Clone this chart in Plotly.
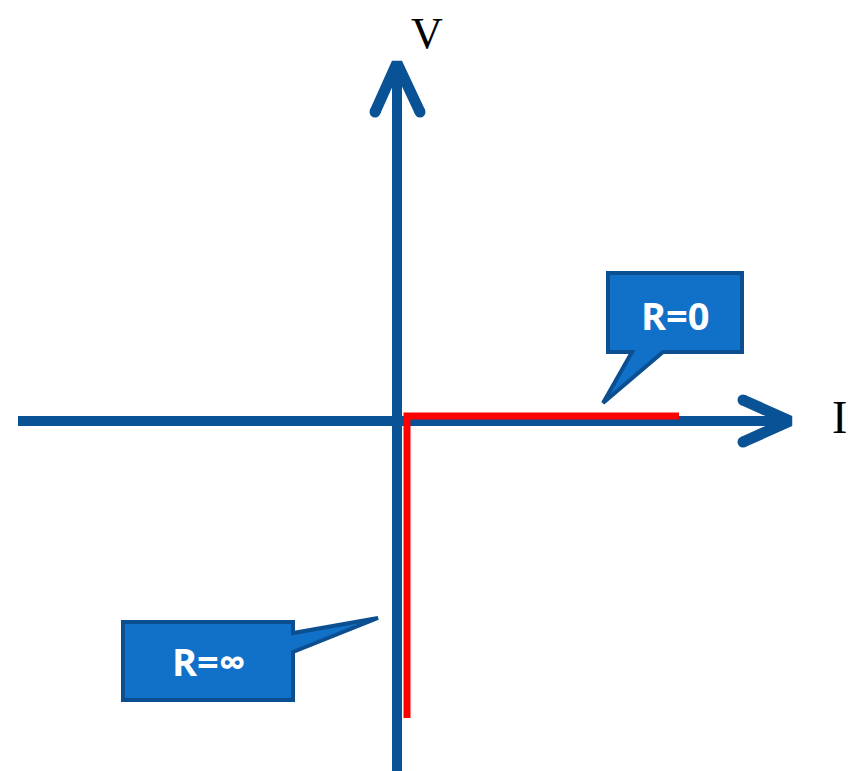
import plotly.graph_objects as go

# Diagram coordinates: origin at the axis crossing, x = current I, y = voltage V (arbitrary units)
i_axis_x = [-379, 391]
i_axis_y = [0, 0]
v_axis_x = [0, 0]
v_axis_y = [-360, 356]
i_head_x = [346, 393, 346]
i_head_y = [21, 0, -21]
v_head_x = [-22, 0, 23]
v_head_y = [309, 358, 309]

# Ideal characteristic (red): R=inf branch along V, R=0 branch along I
char_x = [10, 10, 282]
char_y = [-297, 5, 5]

labels = ["R=0", "R=∞"]
label_pos = [(278, 106), (-188, -240)]
callout_paths = [
    "M 211,148 L 345,148 L 345,69 L 266,69 L 206,18 L 235,69 L 211,69 Z",
    "M -274,-201 L -104,-201 L -104,-212 L -19,-197 L -104,-231 L -104,-279 L -274,-279 Z",
]

AX = "#0A5296"
FILL = "#1170C8"
EDGE = "#0B4F91"

fig = go.Figure()
fig.add_trace(go.Scatter(x=i_axis_x, y=i_axis_y, mode="lines", line=dict(color=AX, width=10), hoverinfo="skip"))
fig.add_trace(go.Scatter(x=v_axis_x, y=v_axis_y, mode="lines", line=dict(color=AX, width=10), hoverinfo="skip"))
for hx, hy in [(i_head_x, i_head_y), (v_head_x, v_head_y)]:
    fig.add_trace(go.Scatter(x=hx, y=hy, mode="lines+markers", line=dict(color=AX, width=11),
                             marker=dict(size=[11, 0, 11], color=AX, opacity=1, line=dict(width=0)),
                             hoverinfo="skip"))
fig.add_trace(go.Scatter(x=char_x, y=char_y, mode="lines", line=dict(color="#FF0000", width=7), hoverinfo="skip"))

for p in callout_paths:
    fig.add_shape(type="path", path=p, xref="x", yref="y", fillcolor=FILL,
                  line=dict(color=EDGE, width=4), layer="above")

for t, (x, y) in zip(labels, label_pos):
    fig.add_annotation(x=x, y=y, text="<b>%s</b>" % t, showarrow=False,
                       font=dict(family="Open Sans", size=38, color="white"))

fig.add_annotation(x=30, y=388, text="V", showarrow=False, borderpad=0,
                   font=dict(family="Liberation Serif", size=44, color="black"))
fig.add_annotation(x=442, y=4, text="I", showarrow=False,
                   font=dict(family="Liberation Serif", size=46, color="black"))

# page body has an 8px margin, so the figure is drawn at (8, 8)
fig.update_layout(
    width=846, height=763,
    margin=dict(l=0, r=0, t=0, b=0),
    paper_bgcolor="white", plot_bgcolor="white",
    showlegend=False,
    xaxis=dict(range=[-389, 457], visible=False, fixedrange=True),
    yaxis=dict(range=[-350, 413], visible=False, fixedrange=True),
)
fig.write_html("out.html")
